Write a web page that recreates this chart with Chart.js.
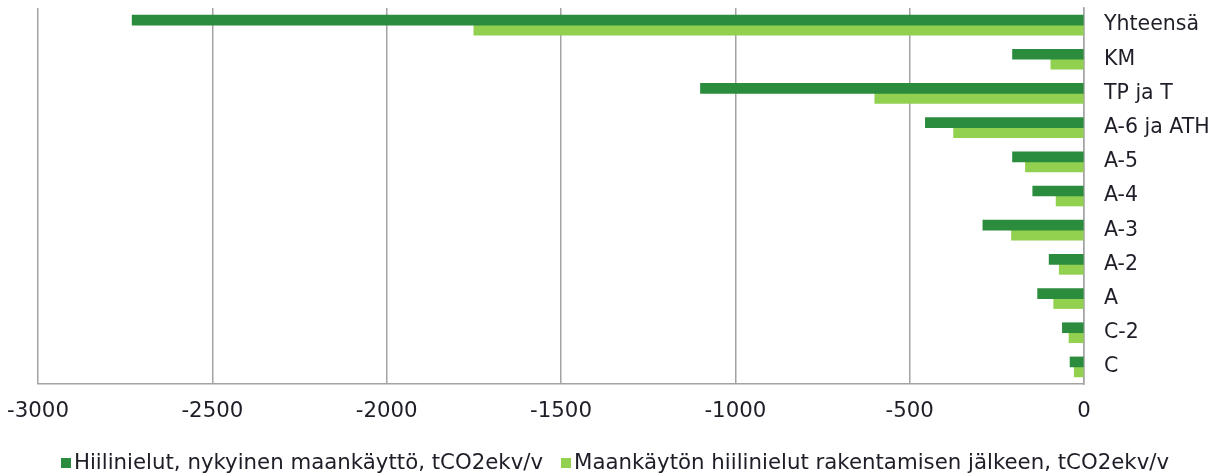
<!DOCTYPE html>
<html>
<head>
<meta charset="utf-8">
<script src="https://cdn.jsdelivr.net/npm/chart.js@4.4.0/dist/chart.umd.min.js"></script>
<style>
html,body{margin:0;padding:0;background:#fff;}
#wrap{width:1230px;height:476px;position:relative;}
#c{position:absolute;left:0;top:0;}
#legend{position:absolute;left:0;top:450px;width:1230px;text-align:center;font-family:'DejaVu Sans',Verdana,sans-serif;font-size:21.3px;color:#1e1e28;white-space:nowrap;line-height:24px;}
#legend span.item{display:inline-block;margin:0 9px;}
#legend span.box{display:inline-block;width:10px;height:10px;margin-right:3px;vertical-align:1px;}
</style>
</head>
<body>
<div id="wrap"><canvas id="c" width="1230" height="476"></canvas><div id="legend"></div></div>
<script>
const categories = ["Yhteensä","KM","TP ja T","A-6 ja ATH","A-5","A-4","A-3","A-2","A","C-2","C"];
const currentSinks = [-2730,-205,-1100,-455,-205,-147,-290,-100,-133,-62,-40];
const afterBuildSinks = [-1750,-95,-600,-374,-168,-80,-208,-71,-87,-43,-28];
const seriesNames = ["Hiilinielut, nykyinen maankäyttö, tCO2ekv/v","Maankäytön hiilinielut rakentamisen jälkeen, tCO2ekv/v"];
const xTicks = [-3000,-2500,-2000,-1500,-1000,-500,0];

const FONT = "'DejaVu Sans', Verdana, sans-serif";
const TXT = '#1e1e28';
const GRID = '#a3a3a3';

const htmlLegend = {
  id: 'htmlLegend',
  afterUpdate(chart) {
    const el = document.getElementById('legend');
    el.innerHTML = '';
    chart.options.plugins.legend.labels.generateLabels(chart).forEach(item => {
      const it = document.createElement('span'); it.className = 'item';
      const b = document.createElement('span'); b.className = 'box'; b.style.background = item.fillStyle;
      it.appendChild(b);
      it.appendChild(document.createTextNode(item.text));
      el.appendChild(it);
    });
  }
};

new Chart(document.getElementById('c'), {
  type: 'bar',
  data: {
    labels: categories,
    datasets: [
      {label: seriesNames[0], data: currentSinks, backgroundColor: '#2b8c3e', borderWidth: 0, barThickness: 10},
      {label: seriesNames[1], data: afterBuildSinks, backgroundColor: '#92d050', borderWidth: 0, barThickness: 10}
    ]
  },
  plugins: [htmlLegend],
  options: {
    indexAxis: 'y',
    responsive: false,
    animation: false,
    layout: {padding: {left: 38, top: 8, right: 0, bottom: 48}},
    scales: {
      x: {
        min: xTicks[0], max: xTicks[xTicks.length-1],
        afterBuildTicks: s => { s.ticks = xTicks.map(v => ({value: v})); },
        grid: {color: GRID, lineWidth: 1.5, drawTicks: false},
        border: {display: true, color: GRID, width: 1.5},
        ticks: {color: TXT, font: {family: FONT, size: 21.3}, padding: 15, maxRotation: 0, callback: v => String(v)},
        afterFit: s => { s.height = 44; s.paddingLeft = 0; s.paddingRight = 0; }
      },
      y: {
        position: 'right',
        grid: {display: false, drawTicks: false},
        border: {display: true, color: GRID, width: 1.5},
        ticks: {color: TXT, font: {family: FONT, size: 20.5}, padding: 20},
        afterFit: s => { s.width = 146; s.paddingTop = 0; s.paddingBottom = 0; }
      }
    },
    plugins: {
      legend: {display: false},
      tooltip: {enabled: false}
    }
  }
});
</script>
</body>
</html>
